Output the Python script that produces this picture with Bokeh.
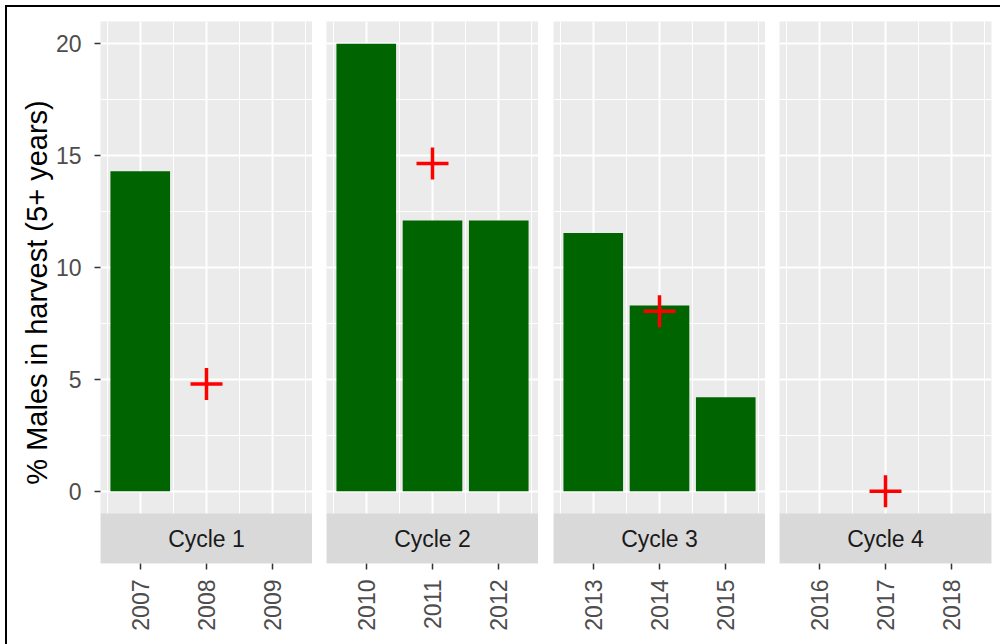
import math
from bokeh.plotting import figure
from bokeh.layouts import row, column
from bokeh.models import Range1d, FixedTicker, BoxAnnotation, Label
from bokeh.embed import file_html
from bokeh.resources import INLINE

# ---- data ----
cycles = ["Cycle 1", "Cycle 2", "Cycle 3", "Cycle 4"]
cycle_years = [[2007, 2008, 2009], [2010, 2011, 2012], [2013, 2014, 2015], [2016, 2017, 2018]]
bar_years = [2007, 2010, 2011, 2012, 2013, 2014, 2015]
bar_values = [14.3, 20.0, 12.1, 12.1, 11.55, 8.3, 4.2]
cross_years = [2008, 2011, 2014, 2017]
cross_values = [4.8, 14.65, 8.05, 0.0]
y_ticks = [0, 5, 10, 15, 20]
y_minor = [2.5, 7.5, 12.5, 17.5]
y_title = "% Males in harvest (5+ years)"

FONT = "Liberation Sans"
Y_LO, Y_HI = -1.0, 21.0
STRIP = 2.23
left_borders = [93, 14, 15, 14]

figs = []
for i, (name, yrs) in enumerate(zip(cycles, cycle_years)):
    first = i == 0
    last = i == len(cycles) - 1
    p = figure(frame_width=212, frame_height=542,
               output_backend="svg", toolbar_location=None,
               x_range=Range1d(yrs[0] - 0.6, yrs[-1] + 0.6),
               y_range=Range1d(Y_LO - STRIP, Y_HI),
               y_axis_location="left" if first else None,
               min_border_left=left_borders[i], min_border_right=9 if last else 0,
               min_border_top=14, min_border_bottom=81,
               background_fill_color="#EBEBEB", border_fill_color="white",
               outline_line_color=None)

    xt = FixedTicker(ticks=yrs, minor_ticks=[y - 0.5 for y in yrs] + [yrs[-1] + 0.5])
    yt = FixedTicker(ticks=y_ticks, minor_ticks=y_minor)
    p.xaxis.ticker = xt
    p.xgrid.ticker = xt
    p.ygrid.ticker = yt
    for g in (p.xgrid, p.ygrid):
        g.grid_line_color = "white"
        g.grid_line_width = 2
        g.minor_grid_line_color = "white"
        g.minor_grid_line_width = 1

    axes = [p.xaxis[0]]
    if first:
        p.yaxis.ticker = yt
        p.yaxis.axis_label = y_title
        p.yaxis.axis_label_text_font = FONT
        p.yaxis.axis_label_text_font_size = "29px"
        p.yaxis.axis_label_text_font_style = "normal"
        p.yaxis.axis_label_text_color = "#000000"
        p.yaxis.axis_label_standoff = 0
        axes.append(p.yaxis[0])
    for ax in axes:
        ax.axis_line_color = None
        ax.major_tick_line_color = "#333333"
        ax.major_tick_line_width = 1.5
        ax.major_tick_in = 0
        ax.major_tick_out = 6
        ax.minor_tick_line_color = None
        ax.major_label_text_font = FONT
        ax.major_label_text_font_size = "23px"
        ax.major_label_text_color = "#4D4D4D"
        ax.major_label_standoff = 10
    if first:
        p.yaxis.major_label_standoff = 13
    p.xaxis.major_label_orientation = math.pi / 2

    bx = [y for y in bar_years if y in yrs]
    bv = [v for y, v in zip(bar_years, bar_values) if y in yrs]
    if bx:
        p.vbar(x=bx, top=bv, bottom=0, width=0.9, fill_color="#006400", line_color=None)
    cx = [y for y in cross_years if y in yrs]
    cv = [v for y, v in zip(cross_years, cross_values) if y in yrs]
    if cx:
        p.scatter(x=cx, y=cv, marker="cross", size=32, line_color="#FF0000", line_width=3.5)

    p.add_layout(BoxAnnotation(top=Y_LO, fill_color="#D9D9D9", fill_alpha=1, line_color=None))
    p.add_layout(Label(x=sum(yrs) / len(yrs), y=Y_LO - STRIP / 2, text=name,
                       text_align="center", text_baseline="middle",
                       text_font=FONT, text_font_size="23px", text_color="#1A1A1A"))
    figs.append(p)

inner = row(*figs, spacing=0,
            styles={"border-top": "2px solid black", "border-left": "2px solid black"})
layout = column(inner, styles={"padding-top": "5px", "padding-left": "5px"})

with open("out.html", "w") as f:
    f.write(file_html(layout, INLINE))
